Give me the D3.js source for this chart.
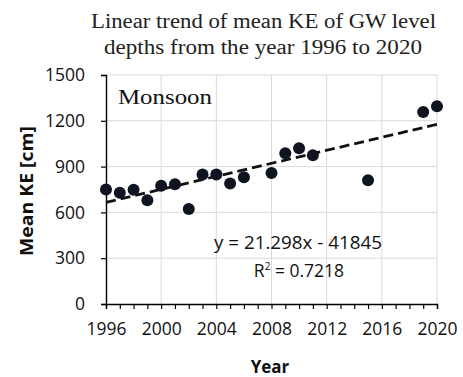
<!DOCTYPE html>
<html>
<head>
<meta charset="utf-8">
<script src="https://cdn.jsdelivr.net/npm/d3@7/dist/d3.min.js"></script>
<style>
  body { margin: 0; background: #fff; }
  svg { display: block; }
</style>
</head>
<body>
<svg id="chart" width="463" height="377"></svg>
<script>
// Monsoon mean KE of groundwater level depths, by year
const years  = [1996, 1997, 1998, 1999, 2000, 2001, 2002, 2003, 2004, 2005, 2006, 2008, 2009, 2010, 2011, 2015, 2019, 2020];
const meanKE = [750, 728, 748, 680, 775, 785, 622, 848, 848, 790, 830, 858, 988, 1020, 975, 810, 1258, 1295];

// Linear trend y = slope * year + intercept
const slope = 21.298;
const intercept = -41845;
const rSquared = 0.7218;

const yTicks = [0, 300, 600, 900, 1200, 1500];
const xTicks = [1996, 2000, 2004, 2008, 2012, 2016, 2020];

const svg = d3.select("#chart");
const plotLeft = 106, plotRight = 437, plotTop = 75, plotBottom = 304;

const x = d3.scaleLinear().domain([1996, 2020]).range([plotLeft, plotRight]);
const y = d3.scaleLinear().domain([0, 1500]).range([plotBottom, plotTop]);

const sans = "Open Sans, Liberation Sans, sans-serif";
const serif = "Liberation Serif, DejaVu Serif, serif";

// Title
svg.append("text").attr("x", 263.5).attr("y", 28)
  .attr("text-anchor", "middle").attr("font-family", serif).attr("font-size", 20.5)
  .attr("textLength", 345).attr("lengthAdjust", "spacingAndGlyphs")
  .attr("fill", "#222").text("Linear trend of mean KE of GW level");
svg.append("text").attr("x", 263).attr("y", 54)
  .attr("text-anchor", "middle").attr("font-family", serif).attr("font-size", 20.5)
  .attr("textLength", 318).attr("lengthAdjust", "spacingAndGlyphs")
  .attr("fill", "#222").text("depths from the year 1996 to 2020");

// Gridlines
svg.append("g").selectAll("line").data(yTicks.filter(d => d > 0)).join("line")
  .attr("x1", plotLeft).attr("x2", plotRight)
  .attr("y1", d => y(d)).attr("y2", d => y(d))
  .attr("stroke", "#d9d9d9").attr("stroke-width", 1);
svg.append("g").selectAll("line").data(xTicks.filter(d => d > 1996)).join("line")
  .attr("x1", d => x(d)).attr("x2", d => x(d))
  .attr("y1", plotTop).attr("y2", plotBottom)
  .attr("stroke", "#d9d9d9").attr("stroke-width", 1);

// Y axis
const yAxis = svg.append("g").attr("transform", `translate(${plotLeft},0)`)
  .call(d3.axisLeft(y).tickValues(yTicks).tickSize(5).tickPadding(16).tickFormat(d3.format("d")));
yAxis.select(".domain").attr("stroke", "#000").attr("stroke-width", 1.4);
yAxis.selectAll(".tick line").attr("stroke", "#000").attr("stroke-width", 1.2);
yAxis.selectAll("text").attr("font-family", sans).attr("font-size", 17.5).attr("fill", "#111");

// X axis: a tick every year, labels every four years
const allYears = d3.range(1996, 2021);
const xAxis = svg.append("g").attr("transform", `translate(0,${plotBottom})`)
  .call(d3.axisBottom(x).tickValues(allYears).tickSize(5).tickPadding(14)
    .tickFormat(d => xTicks.includes(d) ? String(d) : ""));
xAxis.select(".domain").attr("stroke", "#000").attr("stroke-width", 1.4);
xAxis.selectAll(".tick line").attr("stroke", "#000").attr("stroke-width", 1.2);
xAxis.selectAll("text").attr("font-family", sans).attr("font-size", 17.5).attr("fill", "#111");

// Axis titles
svg.append("text").attr("transform", "translate(33,191) rotate(-90)")
  .attr("text-anchor", "middle").attr("font-family", sans).attr("font-weight", "bold")
  .attr("font-size", 17).attr("textLength", 130).attr("lengthAdjust", "spacingAndGlyphs")
  .attr("fill", "#111").text("Mean KE [cm]");
svg.append("text").attr("x", 270).attr("y", 373)
  .attr("text-anchor", "middle").attr("font-family", sans).attr("font-weight", "bold")
  .attr("font-size", 17).attr("fill", "#111").text("Year");

// Season label
svg.append("text").attr("x", 118).attr("y", 104)
  .attr("font-family", serif).attr("font-size", 20)
  .attr("textLength", 94).attr("lengthAdjust", "spacingAndGlyphs")
  .attr("fill", "#111").text("Monsoon");

// Trend line
svg.append("line")
  .attr("x1", x(1996)).attr("y1", y(slope * 1996 + intercept))
  .attr("x2", x(2020)).attr("y2", y(slope * 2020 + intercept))
  .attr("stroke", "#111").attr("stroke-width", 2.8).attr("stroke-dasharray", "10,5");

// Points
svg.append("g").selectAll("circle").data(years.map((yr, i) => [yr, meanKE[i]])).join("circle")
  .attr("cx", d => x(d[0])).attr("cy", d => y(d[1])).attr("r", 6)
  .attr("fill", "#0f1520");

// Equation labels
svg.append("text").attr("x", 298).attr("y", 249).attr("text-anchor", "middle")
  .attr("font-family", sans).attr("font-size", 17.5).attr("fill", "#111")
  .attr("textLength", 168).attr("lengthAdjust", "spacingAndGlyphs")
  .text(`y = ${slope}x - ${Math.abs(intercept)}`);
const r2 = svg.append("text").attr("x", 299).attr("y", 277).attr("text-anchor", "middle")
  .attr("font-family", sans).attr("font-size", 17.5).attr("fill", "#111");
r2.append("tspan").text("R");
r2.append("tspan").attr("baseline-shift", "super").attr("font-size", 10).text("2");
r2.append("tspan").text(` = ${rSquared}`);
</script>
</body>
</html>
